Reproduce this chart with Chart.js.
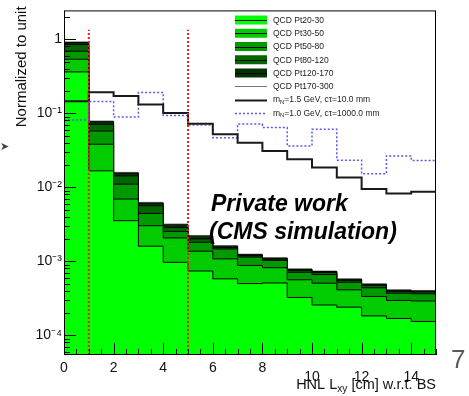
<!DOCTYPE html>
<html>
<head>
<meta charset="utf-8">
<script src="https://cdn.jsdelivr.net/npm/chart.js@4/dist/chart.umd.min.js"></script>
<style>
  html, body { margin: 0; padding: 0; background: #fff; }
  #wrap { position: relative; width: 469px; height: 396px; }
</style>
</head>
<body>
<div id="wrap"><canvas id="c" width="469" height="396"></canvas></div>
<script>
// Bin edges of the HNL transverse displacement histogram [cm]
const binEdges = [0, 1, 2, 3, 4, 5, 6, 7, 8, 9, 10, 11, 12, 13, 14, 15];
const xTickValues = [0, 2, 4, 6, 8, 10, 12, 14];
const yTickValues = [1e-4, 1e-3, 1e-2, 1e-1, 1];
const yTickLabels = ['10⁻⁴', '10⁻³', '10⁻²', '10⁻¹', '1'];
const yRange = [5.42e-5, 2.46];

// Selection cuts on Lxy [cm] and the height of the cut markers
const cutPositions = [1, 5];
const cutTop = 1.35;

// QCD multijet background, contribution of each pT-hat slice per bin (stacked, normalised)
const qcdPt20to30   = [0.363, 0.0167, 0.00354, 0.00160, 0.00097, 0.00074, 0.00058, 0.00050, 0.00051, 0.000325, 0.000257, 0.000240, 0.000183, 0.000169, 0.000154];
const qcdPt30to50   = [0.175, 0.0215, 0.00340, 0.00143, 0.00110, 0.00063, 0.00050, 0.00038, 0.00031, 0.000238, 0.000249, 0.000172, 0.000152, 0.000127, 0.000137];
const qcdPt50to80   = [0.152, 0.0195, 0.00410, 0.00141, 0.00047, 0.00044, 0.00039, 0.00026, 0.00021, 0.000149, 0.000157, 0.000110, 0.000104, 0.000075, 0.000073];
const qcdPt80to120  = [0.159, 0.0133, 0.00324, 0.00120, 0.00033, 0.00020, 0.00007, 0.00005, 0.00004, 0.000043, 0.000043, 0.000032, 0.000035, 0.000023, 0.000021];
const qcdPt120to170 = [0.057, 0.0062, 0.00134, 0.00050, 0.00025, 0.00018, 0.00006, 0.00004, 0.00003, 0.000024, 0.000022, 0.000017, 0.000015, 0.000012, 0.000012];
const qcdPt170to300 = [0.017, 0.0015, 0.00030, 0.00012, 0.00007, 0.00004, 0.00003, 0.00002, 0.00002, 0.000012, 0.000011, 0.000009, 0.000008, 0.000006, 0.000007];

// HNL signal samples (normalised to unit)
const hnlM15ct10   = [0.146, 0.1933, 0.1708, 0.1320, 0.1008, 0.0723, 0.0521, 0.0401, 0.0310, 0.0240, 0.0185, 0.0136, 0.00946, 0.00825, 0.00870];
const hnlM10ct1000 = [0.0811, 0.1448, 0.0890, 0.1915, 0.0932, 0.0695, 0.0469, 0.0716, 0.0643, 0.0362, 0.0608, 0.0233, 0.0152, 0.0266, 0.0231];

const FONT = '"Liberation Sans", Arial, Helvetica, sans-serif';

const stackDefs = [
  { label: 'QCD Pt20-30',   values: qcdPt20to30,   fill: '#00ff00' },
  { label: 'QCD Pt30-50',   values: qcdPt30to50,   fill: '#00cc00' },
  { label: 'QCD Pt50-80',   values: qcdPt50to80,   fill: '#009900' },
  { label: 'QCD Pt80-120',  values: qcdPt80to120,  fill: '#006600' },
  { label: 'QCD Pt120-170', values: qcdPt120to170, fill: '#003300' },
  { label: 'QCD Pt170-300', values: qcdPt170to300, fill: null }
];

// histogram outline: one point per bin edge, value held across the bin
function histPoints(vals) {
  return binEdges.map((e, i) => ({ x: e, y: vals[Math.min(i, vals.length - 1)] }));
}

// cumulative sums for the stack
const cumulative = [];
stackDefs.forEach((d, k) => {
  cumulative.push(d.values.map((v, i) => v + (k > 0 ? cumulative[k - 1][i] : 0)));
});

const datasets = [];
cutPositions.forEach(c => datasets.push({
  label: 'cut', data: [{ x: c, y: yRange[0] }, { x: c, y: cutTop }],
  borderColor: '#ff1a1a', borderWidth: 2, borderDash: [2, 2], pointRadius: 0, fill: false
}));
datasets.push({
  label: 'm_{N}=1.5 GeV, cτ=10.0 mm', data: histPoints(hnlM15ct10), stepped: true,
  borderColor: '#1a1a1a', borderWidth: 2, pointRadius: 0, fill: false, legendKind: 'line'
});
datasets.push({
  label: 'm_{N}=1.0 GeV, cτ=1000.0 mm', data: histPoints(hnlM10ct1000), stepped: true,
  borderColor: '#5a5aee', borderWidth: 1.5, borderDash: [2, 2], pointRadius: 0, fill: false, legendKind: 'line'
});
// bottom slice is listed first so it is painted last, over the slices stacked above it
stackDefs.forEach((d, k) => datasets.push({
  label: d.label, data: histPoints(cumulative[k]), stepped: true,
  borderColor: d.fill ? '#000' : '#777', borderWidth: 1, pointRadius: 0,
  backgroundColor: d.fill || 'rgba(0,0,0,0)', fill: d.fill ? 'start' : false,
  legendKind: d.fill ? 'box' : 'line'
}));

const legendOrder = ['QCD Pt20-30', 'QCD Pt30-50', 'QCD Pt50-80', 'QCD Pt80-120', 'QCD Pt120-170',
  'QCD Pt170-300', 'm_{N}=1.5 GeV, cτ=10.0 mm', 'm_{N}=1.0 GeV, cτ=1000.0 mm'];

// text with _{...} subscripts
function richParts(s) {
  const parts = []; const re = /_\{([^}]*)\}/g; let last = 0, m;
  while ((m = re.exec(s))) {
    if (m.index > last) parts.push({ t: s.slice(last, m.index), sub: false });
    parts.push({ t: m[1], sub: true }); last = re.lastIndex;
  }
  if (last < s.length) parts.push({ t: s.slice(last), sub: false });
  return parts;
}
function drawRich(ctx, s, x, y, size, align) {
  const parts = richParts(s);
  const subSize = size * 0.7;
  let w = 0;
  parts.forEach(p => { ctx.font = (p.sub ? subSize : size) + 'px ' + FONT; p.w = ctx.measureText(p.t).width; w += p.w; });
  let cx = align === 'right' ? x - w : x;
  ctx.textAlign = 'left';
  parts.forEach(p => {
    ctx.font = (p.sub ? subSize : size) + 'px ' + FONT;
    ctx.fillText(p.t, cx, p.sub ? y + size * 0.28 : y);
    cx += p.w;
  });
}

const decorations = {
  id: 'decorations',
  afterDatasetsDraw(chart) {
    const { ctx, chartArea: a, scales: { x, y } } = chart;
    ctx.save();
    // inward tick marks
    ctx.strokeStyle = '#000'; ctx.lineWidth = 1;
    ctx.beginPath();
    for (let v = 0; v <= 15; v += 0.5) {
      const px = Math.round(x.getPixelForValue(v)) + 0.5;
      const len = (v % 2 === 0) ? 12 : 6;
      ctx.moveTo(px, a.bottom); ctx.lineTo(px, a.bottom - len);
    }
    for (let d = -5; d <= 0; d++) {
      for (let m = 1; m <= 9; m++) {
        const v = m * Math.pow(10, d);
        if (v < y.min || v > y.max) continue;
        const py = Math.round(y.getPixelForValue(v)) + 0.5;
        ctx.moveTo(a.left, py); ctx.lineTo(a.left + (m === 1 ? 12 : 6), py);
      }
    }
    ctx.stroke();
    ctx.strokeRect(a.left + 0.5, a.top + 0.5, a.right - a.left - 1, a.bottom - a.top - 1);

    // axis titles
    ctx.fillStyle = '#111';
    ctx.save();
    ctx.translate(22, a.top - 4);
    ctx.rotate(-Math.PI / 2);
    ctx.font = '15px ' + FONT; ctx.textAlign = 'right'; ctx.textBaseline = 'middle';
    ctx.fillText('Normalized to unit', 0, 0);
    ctx.restore();
    ctx.textBaseline = 'middle';
    drawRich(ctx, 'HNL L_{xy} [cm] w.r.t. BS', a.right, 385, 14.5, 'right');

    // legend
    const lx = 235, ly0 = 20, ldy = 13.25;
    legendOrder.forEach((lab, i) => {
      const ds = chart.data.datasets.find(d => d.label === lab);
      const cy = ly0 + i * ldy;
      if (ds.legendKind === 'box') {
        ctx.fillStyle = ds.backgroundColor;
        ctx.fillRect(lx, cy - 4.5, 32, 9);
        ctx.strokeStyle = '#000'; ctx.lineWidth = 1; ctx.setLineDash([]);
        ctx.beginPath(); ctx.moveTo(lx, Math.round(cy) + 0.5); ctx.lineTo(lx + 32, Math.round(cy) + 0.5); ctx.stroke();
      } else {
        ctx.strokeStyle = ds.borderColor; ctx.lineWidth = ds.borderWidth;
        ctx.setLineDash(ds.borderDash || []);
        ctx.beginPath(); ctx.moveTo(lx, Math.round(cy) + 0.5); ctx.lineTo(lx + 32, Math.round(cy) + 0.5); ctx.stroke();
        ctx.setLineDash([]);
      }
      ctx.fillStyle = '#222'; ctx.textBaseline = 'middle';
      drawRich(ctx, lab, 273, cy + 0.5, 8.5, 'left');
    });

    // label on the plot
    ctx.fillStyle = '#000'; ctx.textBaseline = 'alphabetic'; ctx.textAlign = 'left';
    ctx.font = 'italic bold 23px ' + FONT;
    ctx.fillText('Private work', 211, 211);
    ctx.fillText('(CMS simulation)', 209, 239);

    // page number and pointer
    ctx.fillStyle = '#5a5a5a'; ctx.font = '26px ' + FONT;
    ctx.fillText('7', 451, 368);
    ctx.fillStyle = '#444'; ctx.font = '11px "DejaVu Sans"'; ctx.textBaseline = 'middle';
    ctx.fillText('➤', 0, 147);
    ctx.restore();
  }
};

new Chart(document.getElementById('c'), {
  type: 'line',
  data: { datasets },
  options: {
    responsive: false, animation: false, devicePixelRatio: 1,
    layout: { padding: { top: 9, right: 33, left: 0, bottom: 0 } },
    plugins: { legend: { display: false }, tooltip: { enabled: false } },
    elements: { line: { tension: 0 } },
    scales: {
      x: {
        type: 'linear', min: 0, max: 15,
        afterBuildTicks: s => { s.ticks = xTickValues.map(v => ({ value: v })); },
        afterFit: s => { s.height = 41; },
        grid: { display: false, drawTicks: false }, border: { display: false },
        ticks: {
          autoSkip: false, maxRotation: 0, padding: 5, color: '#111',
          font: c => ({ family: FONT, size: 14, lineHeight: (c.tick && c.tick.value >= 10) ? 2.4 : 1.2 })
        }
      },
      y: {
        type: 'logarithmic', min: yRange[0], max: yRange[1],
        afterBuildTicks: s => { s.ticks = yTickValues.map(v => ({ value: v })); },
        afterFit: s => { s.width = 64; },
        grid: { display: false, drawTicks: false }, border: { display: false },
        ticks: {
          padding: 2, color: '#111', font: { family: FONT, size: 14 },
          callback: (v, i) => yTickLabels[i]
        }
      }
    }
  },
  plugins: [decorations]
});
</script>
</body>
</html>
